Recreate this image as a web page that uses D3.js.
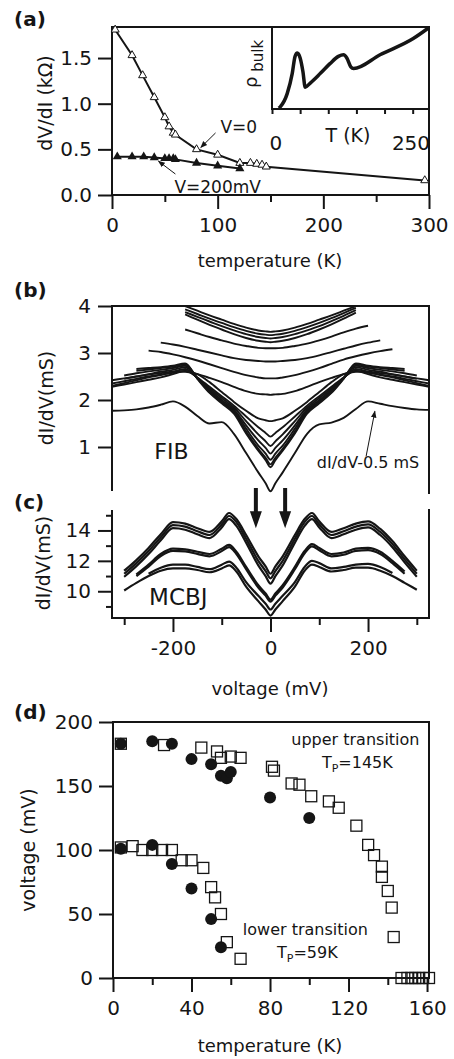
<!DOCTYPE html>
<html>
<head>
<meta charset="utf-8">
<script src="https://cdn.jsdelivr.net/npm/d3@7"></script>
<style>
body{margin:0;background:#fff}
svg{display:block;font-family:"DejaVu Sans",sans-serif}
</style>
</head>
<body>
<div id="chart"></div>
<script>
// ---- panel (a): dV/dI vs temperature
let tempV0 = [3, 19, 29, 40, 50, 54, 58, 60, 80, 100, 121, 131, 137, 142, 146, 296]
let resV0 = [1.81, 1.53, 1.31, 1.07, 0.85, 0.75, 0.68, 0.66, 0.50, 0.44, 0.35, 0.35, 0.34, 0.33, 0.31, 0.16]
let tempV200 = [5, 19, 30, 40, 50, 54, 58, 60, 80, 100, 121]
let resV200 = [0.42, 0.42, 0.42, 0.41, 0.40, 0.40, 0.40, 0.39, 0.35, 0.32, 0.29]
// inset: bulk resistivity (arb. units)
let insetT = [12, 15, 27, 36, 41, 45, 50, 55, 59, 68, 86, 103, 118, 127, 133, 140, 145, 192, 251, 278]
let insetRho = [0.01, 0.03, 0.19, 0.44, 0.65, 0.69, 0.63, 0.46, 0.27, 0.32, 0.44, 0.56, 0.65, 0.67, 0.63, 0.52, 0.50, 0.67, 0.87, 1.0]

// ---- panel (b): FIB junction dI/dV curves (mS)
let fibVolts = [-325,-300,-275,-250,-225,-200,-175,-150,-125,-100,-75,-50,-25,-10,0,10,25,50,75,100,125,150,175,200,225,250,275,300,325]
let fibA = [null,null,null,null,null,null,4.00,3.90,3.80,3.71,3.62,3.54,3.48,3.46,3.45,3.46,3.48,3.54,3.62,3.71,3.80,3.90,4.00,null,null,null,null,null,null]
let fibB = [null,null,null,null,null,null,3.93,3.83,3.73,3.64,3.55,3.47,3.41,3.39,3.38,3.39,3.41,3.47,3.55,3.64,3.74,3.85,3.96,null,null,null,null,null,null]
let fibC = [null,null,null,null,null,null,3.87,3.77,3.67,3.57,3.48,3.40,3.34,3.32,3.31,3.32,3.34,3.40,3.48,3.57,3.68,3.79,3.91,null,null,null,null,null,null]
let fibD = [null,null,null,null,null,null,3.82,3.71,3.60,3.50,3.40,3.32,3.26,3.24,3.23,3.24,3.26,3.32,3.40,3.50,3.61,3.73,3.86,null,null,null,null,null,null]
let fibE = [null,null,null,null,null,null,3.50,3.42,3.34,3.27,3.20,3.15,3.11,3.10,3.10,3.10,3.11,3.15,3.20,3.27,3.35,3.44,3.52,3.58,null,null,null,null,null]
let fibF = [null,null,null,null,3.22,3.18,3.13,3.07,3.01,2.95,2.89,2.85,2.83,2.82,2.82,2.82,2.83,2.85,2.89,2.95,3.02,3.09,3.16,3.22,3.27,null,null,null,null]
let fibG = [null,null,null,3.05,3.02,2.97,2.91,2.84,2.76,2.68,2.60,2.53,2.48,2.46,2.46,2.46,2.48,2.53,2.60,2.68,2.77,2.86,2.93,2.99,3.04,3.08,null,null,null]
let fibH = [2.42,2.46,2.50,2.54,2.57,2.60,2.60,2.55,2.47,2.38,2.28,2.19,2.13,2.12,2.11,2.12,2.13,2.19,2.28,2.38,2.47,2.55,2.60,2.60,2.57,2.54,2.50,2.46,2.42]
let fibI = [2.35,2.40,2.45,2.50,2.54,2.58,2.62,2.55,2.38,2.17,1.96,1.77,1.61,1.57,1.55,1.57,1.61,1.77,1.96,2.17,2.38,2.55,2.62,2.58,2.54,2.50,2.45,2.40,2.35]
let fibJ = [2.28,2.33,2.38,2.43,2.48,2.55,2.62,2.48,2.28,2.08,1.88,1.65,1.42,1.30,1.22,1.30,1.42,1.65,1.88,2.08,2.28,2.48,2.62,2.55,2.48,2.43,2.38,2.33,2.28]
let fibK = [2.30,2.36,2.42,2.48,2.53,2.60,2.66,2.47,2.25,2.04,1.84,1.55,1.27,1.12,1.02,1.12,1.27,1.55,1.84,2.04,2.25,2.47,2.66,2.60,2.53,2.48,2.42,2.36,2.30]
let fibL = [null,2.45,2.50,2.55,2.60,2.64,2.70,2.47,2.22,2.00,1.80,1.46,1.14,0.98,0.86,0.98,1.14,1.46,1.80,2.00,2.22,2.47,2.70,2.64,2.60,2.55,2.50,2.45,null]
let fibM = [null,2.52,2.57,2.61,2.64,2.68,2.73,2.46,2.20,1.97,1.77,1.39,1.03,0.86,0.73,0.86,1.03,1.39,1.77,1.97,2.20,2.46,2.73,2.68,2.64,2.61,2.57,2.52,null]
let fibN = [null,null,2.62,2.65,2.68,2.71,2.76,2.46,2.17,1.95,1.74,1.33,0.96,0.77,0.63,0.77,0.96,1.33,1.74,1.95,2.17,2.46,2.76,2.71,2.68,2.65,2.62,null,null]
let fibO = [null,null,2.66,2.68,2.70,2.73,2.78,2.45,2.15,1.93,1.71,1.29,0.92,0.72,0.57,0.72,0.92,1.29,1.71,1.93,2.15,2.45,2.78,2.73,2.70,2.68,2.66,null,null]
// lowest curve is plotted shifted by -0.5 mS
let fibShifted = [1.77,1.78,1.80,1.84,1.90,1.97,1.86,1.66,1.50,1.53,1.28,0.87,0.46,0.23,0.06,0.23,0.46,0.87,1.28,1.48,1.52,1.62,1.81,1.97,1.92,1.87,1.83,1.80,1.79]

// ---- panel (c): MCBJ dI/dV curves (mS)
let mcbjVolts = [-300,-275,-250,-225,-200,-175,-150,-125,-100,-85,-70,-50,-25,-10,0,10,25,50,70,85,100,125,150,175,200,225,250,275,300]
let mcbjA = [11.35,12.05,12.85,13.75,14.55,14.45,14.15,13.90,14.60,15.15,14.75,13.70,12.30,11.63,11.15,11.63,12.30,13.70,14.75,15.15,14.60,13.90,14.15,14.45,14.60,14.10,13.30,12.30,11.35]
let mcbjB = [11.15,11.85,12.65,13.55,14.35,14.25,13.95,13.70,14.40,14.95,14.55,13.45,12.00,11.33,10.85,11.33,12.00,13.45,14.55,14.95,14.40,13.70,13.95,14.25,14.40,13.90,13.10,12.10,11.15]
let mcbjC = [10.95,11.65,12.45,13.35,14.15,14.05,13.75,13.50,14.20,14.75,14.30,13.20,11.70,11.00,10.50,11.00,11.70,13.20,14.30,14.75,14.20,13.50,13.75,14.05,14.20,13.70,12.90,11.90,10.95]
let mcbjD = [null,11.10,11.75,12.45,12.80,12.75,12.60,12.45,12.80,13.05,12.60,11.60,10.40,9.85,9.45,9.85,10.40,11.60,12.65,13.10,12.85,12.45,12.55,12.80,12.85,12.60,12.00,11.30,null]
let mcbjE = [null,11.00,11.62,12.32,12.66,12.62,12.46,12.30,12.64,12.90,12.45,11.45,10.25,9.71,9.32,9.71,10.25,11.45,12.50,12.95,12.70,12.30,12.40,12.66,12.70,12.45,11.85,11.15,null]
let mcbjF = [null,null,11.15,11.55,11.75,11.75,11.60,11.45,11.75,11.95,11.55,10.60,9.70,9.18,8.80,9.18,9.70,10.60,11.60,12.00,11.85,11.50,11.60,11.75,11.80,11.60,11.20,null,null]
let mcbjG = [10.05,10.55,11.00,11.35,11.50,11.50,11.40,11.25,11.50,11.70,11.30,10.30,9.35,8.80,8.40,8.80,9.35,10.30,11.35,11.75,11.60,11.30,11.40,11.55,11.55,11.35,11.00,10.55,10.10]

// ---- panel (d): transition voltages vs temperature
let circUpperT = [4, 20, 30, 40, 50, 55, 58, 60, 80, 100]
let circUpperV = [183, 185, 183, 171, 167, 158, 156, 161, 141, 125]
let circLowerT = [4, 20, 30, 40, 50, 55]
let circLowerV = [101, 104, 89, 70, 46, 24]
let sqUpperT = [4, 26, 45, 53, 55, 60, 65, 81, 82, 91, 95, 101, 110, 115, 124, 130, 133, 137, 137, 140, 142, 143, 147, 150, 152, 154, 156, 158, 161]
let sqUpperV = [183, 182, 180, 177, 172, 173, 172, 165, 162, 152, 151, 142, 138, 133, 119, 104, 96, 87, 79, 68, 55, 32, 0, 0, 0, 0, 0, 0, 0]
let sqLowerT = [4, 10, 15, 20, 25, 30, 35, 40, 46, 50, 52, 55, 58, 65]
let sqLowerV = [102, 103, 100, 100, 100, 100, 92, 92, 86, 71, 63, 50, 28, 15]

let ink = '#151515'
let W = 454, H = 1059
let L = 112, R = 429
let tickFont = 20

let svg = d3.select('#chart').append('svg').attr('width', W).attr('height', H)
svg.append('rect').attr('width', W).attr('height', H).attr('fill', '#fff')

let xA = d3.scaleLinear().domain([0, 300]).range([L, R])
let yA = d3.scaleLinear().domain([0, 1.84]).range([195, 27])
let xI = d3.scaleLinear().domain([0, 279]).range([272, R])
let yI = d3.scaleLinear().domain([0, 1]).range([109, 28])
let xV = d3.scaleLinear().domain([-325, 325]).range([L, R])
let yB = d3.scaleLinear().domain([0, 4]).range([494, 306])
let yC = d3.scaleLinear().domain([8.24, 15.28]).range([618, 511])
let xD = d3.scaleLinear().domain([0, 161]).range([113, 429])
let yD = d3.scaleLinear().domain([0, 200]).range([978, 722])

let plain = d => String(d)   // keeps a plain hyphen for negatives, like the original

// axis helper: keeps ticks, drops the domain path (frames drawn separately)
let drawAxis = (gen, tr) => {
  let g = svg.append('g').attr('transform', tr).call(gen)
  g.select('.domain').remove()
  g.attr('font-family', null).attr('font-size', tickFont)
  g.selectAll('line').attr('stroke', ink).attr('stroke-width', 2)
  g.selectAll('text').attr('fill', ink)
  return g
}
let frame = (pts) => {
  svg.append('path').attr('d', d3.line()(pts)).attr('fill', 'none')
    .attr('stroke', ink).attr('stroke-width', 2).attr('stroke-linecap', 'square')
}
let label = (txt, x, y, size, anchor) => {
  return svg.append('text').attr('x', x).attr('y', y).attr('font-size', size)
    .attr('text-anchor', anchor || 'middle').attr('fill', ink).text(txt)
}

svg.append('defs').append('marker').attr('id', 'head')
  .attr('viewBox', '0 0 10 10').attr('refX', 9).attr('refY', 5)
  .attr('markerWidth', 7).attr('markerHeight', 7).attr('markerUnits', 'userSpaceOnUse')
  .attr('orient', 'auto')
  .append('path').attr('d', 'M0,1 L10,5 L0,9 Z').attr('fill', ink)

// ================= (a)
label('(a)', 14, 26, 20, 'start').attr('font-weight', 'bold')
drawAxis(d3.axisLeft(yA).tickValues([0, 0.5, 1, 1.5]).tickFormat(d3.format('.1f')).tickSize(14).tickPadding(6), `translate(${L},0)`)
drawAxis(d3.axisBottom(xA).tickValues([0, 100, 200, 300]).tickFormat(plain).tickSize(14).tickPadding(9), `translate(0,${yA(0)})`)
drawAxis(d3.axisBottom(xA).tickValues([50, 150, 250]).tickSize(7).tickFormat(''), `translate(0,${yA(0)})`)
frame([[L, yA(0)], [L, yA.range()[1]], [R, yA.range()[1]], [R, yA(0)], [L, yA(0)]])
label('temperature (K)', 270, 267, 18)
label('dV/dI (kΩ)', 0, 0, 19).attr('transform', `translate(52,${(yA.range()[0] + yA.range()[1]) / 2 - 8}) rotate(-90)`)

let lineA = d3.line().x(d => xA(d[0])).y(d => yA(d[1]))
svg.append('path').datum(tempV0.map((t, i) => [t, resV0[i]])).attr('d', lineA)
  .attr('fill', 'none').attr('stroke', ink).attr('stroke-width', 2)
svg.append('path').datum(tempV200.map((t, i) => [t, resV200[i]])).attr('d', lineA)
  .attr('fill', 'none').attr('stroke', ink).attr('stroke-width', 2)
let tri = d3.symbol(d3.symbolTriangle)
svg.append('g').selectAll('path').data(tempV0).enter().append('path')
  .attr('d', tri.size(28)()).attr('transform', (t, i) => `translate(${xA(t)},${yA(resV0[i])})`)
  .attr('fill', '#fff').attr('stroke', ink).attr('stroke-width', 1)
svg.append('g').selectAll('path').data(tempV200).enter().append('path')
  .attr('d', tri.size(36)()).attr('transform', (t, i) => `translate(${xA(t)},${yA(resV200[i])})`)
  .attr('fill', ink)

label('V=0', xA(120), yA(0.68), 17)
svg.append('line').attr('x1', xA(98)).attr('y1', yA(0.68)).attr('x2', xA(84)).attr('y2', yA(0.52))
  .attr('stroke', ink).attr('stroke-width', 1).attr('marker-end', 'url(#head)')
label('V=200mV', xA(100), yA(0.02), 17)
svg.append('line').attr('x1', xA(60)).attr('y1', yA(0.23)).attr('x2', xA(44)).attr('y2', yA(0.37))
  .attr('stroke', ink).attr('stroke-width', 1).attr('marker-end', 'url(#head)')

// inset
svg.append('rect').attr('x', xI(0)).attr('y', yI(1)).attr('width', R - xI(0)).attr('height', yI(0) - yI(1)).attr('fill', '#fff')
drawAxis(d3.axisBottom(xI).tickValues([0, 50, 100, 150, 200, 250]).tickSize(5).tickFormat(''), `translate(0,${yI(0)})`)
frame([[xI(0), yA.range()[1]], [xI(0), yI(0)], [R, yI(0)]])
frame([[R, yA.range()[1]], [R, yI(0)]])
svg.append('path').datum(insetT.map((t, i) => [t, insetRho[i]]))
  .attr('d', d3.line().x(d => xI(d[0])).y(d => yI(d[1])).curve(d3.curveMonotoneX))
  .attr('fill', 'none').attr('stroke', ink).attr('stroke-width', 3.5).attr('stroke-linejoin', 'round')
label('0', xI(7), 150, tickFont)
label('250', xI(247), 150, tickFont)
label('T (K)', xI(135), 142, 19)
let rho = label('ρ', 0, 0, 18, 'start').attr('transform', `translate(257,88) rotate(-90)`)
rho.append('tspan').attr('font-size', 15).attr('dy', 6).text(' bulk')

// ================= (b)
label('(b)', 14, 297, 20, 'start').attr('font-weight', 'bold')
drawAxis(d3.axisLeft(yB).tickValues([1, 2, 3, 4]).tickFormat(plain).tickSize(14).tickPadding(7), `translate(${L},0)`)
frame([[L, 490], [L, yB(4)], [R, yB(4)], [R, 493]])
label('dI/dV(mS)', 0, 0, 19).attr('transform', `translate(53,398) rotate(-90)`)

let fibCurves = [fibA, fibB, fibC, fibD, fibE, fibF, fibG, fibH, fibI, fibJ, fibK, fibL, fibM, fibN, fibO, fibShifted]
let lineB = d3.line().defined(d => d[1] != null).x(d => xV(d[0])).y(d => yB(d[1])).curve(d3.curveMonotoneX)
svg.append('g').selectAll('path').data(fibCurves).enter().append('path')
  .attr('d', c => lineB(fibVolts.map((v, i) => [v, c[i]])))
  .attr('fill', 'none').attr('stroke', ink).attr('stroke-width', 1.9)

label('FIB', xV(-203), yB(0.75), 22)
label('dI/dV-0.5 mS', xV(200), yB(0.56), 16)
svg.append('line').attr('x1', xV(196)).attr('y1', yB(0.80)).attr('x2', xV(214)).attr('y2', yB(1.76))
  .attr('stroke', ink).attr('stroke-width', 1).attr('marker-end', 'url(#head)')

// ================= (c)
label('(c)', 14, 509, 20, 'start').attr('font-weight', 'bold')
drawAxis(d3.axisLeft(yC).tickValues([10, 12, 14]).tickFormat(plain).tickSize(14).tickPadding(7), `translate(${L},0)`)
drawAxis(d3.axisLeft(yC).tickValues([9, 11, 13, 15]).tickSize(6).tickFormat(''), `translate(${L},0)`)
drawAxis(d3.axisBottom(xV).tickValues([-200, 0, 200]).tickFormat(plain).tickSize(14).tickPadding(9), `translate(0,${yC.range()[0]})`)
drawAxis(d3.axisBottom(xV).tickValues([-300, -100, 100, 300]).tickSize(7).tickFormat(''), `translate(0,${yC.range()[0]})`)
frame([[L, yC.range()[1]], [L, yC.range()[0]], [R, yC.range()[0]], [R, yC.range()[1] - 1]])
label('dI/dV(mS)', 0, 0, 19).attr('transform', `translate(50,563) rotate(-90)`)
label('voltage (mV)', 270, 695, 18)

let mcbjCurves = [mcbjA, mcbjB, mcbjC, mcbjD, mcbjE, mcbjF, mcbjG]
let lineC = d3.line().defined(d => d[1] != null).x(d => xV(d[0])).y(d => yC(d[1])).curve(d3.curveMonotoneX)
svg.append('g').selectAll('path').data(mcbjCurves).enter().append('path')
  .attr('d', c => lineC(mcbjVolts.map((v, i) => [v, c[i]])))
  .attr('fill', 'none').attr('stroke', ink).attr('stroke-width', 2.2)
label('MCBJ', xV(-189), yC(9.1), 23)

// the two downward arrows between (b) and (c)
;[-30, 30].forEach(v => {
  let x = xV(v), y0 = yB(0.13), y1 = yC(14.15)
  svg.append('path')
    .attr('d', `M${x - 2},${y0} L${x + 2},${y0} L${x + 2},${y1 - 17} L${x + 6},${y1 - 17} L${x},${y1} L${x - 6},${y1 - 17} L${x - 2},${y1 - 17} Z`)
    .attr('fill', ink)
})

// ================= (d)
label('(d)', 14, 719, 20, 'start').attr('font-weight', 'bold')
drawAxis(d3.axisLeft(yD).tickValues([0, 50, 100, 150, 200]).tickFormat(plain).tickSize(14).tickPadding(6), `translate(${xD(0)},0)`)
drawAxis(d3.axisBottom(xD).tickValues([0, 40, 80, 120, 160]).tickFormat(plain).tickSize(14).tickPadding(9), `translate(0,${yD(0)})`)
drawAxis(d3.axisBottom(xD).tickValues([20, 60, 100, 140]).tickSize(7).tickFormat(''), `translate(0,${yD(0)})`)
frame([[xD(0), yD(0)], [xD(0), yD(200)], [R, yD(200)], [R, yD(0)], [xD(0), yD(0)]])
label('voltage (mV)', 0, 0, 19).attr('transform', `translate(35,${yD(100)}) rotate(-90)`)
label('temperature (K)', 270, 1052, 18)

let sq = 11
let drawSquares = (ts, vs) => {
  svg.append('g').selectAll('rect').data(ts).enter().append('rect')
    .attr('x', t => xD(t) - sq / 2).attr('y', (t, i) => yD(vs[i]) - sq / 2)
    .attr('width', sq).attr('height', sq)
    .attr('fill', 'none').attr('stroke', ink).attr('stroke-width', 1.3)
}
let drawCircles = (ts, vs) => {
  svg.append('g').selectAll('circle').data(ts).enter().append('circle')
    .attr('cx', t => xD(t)).attr('cy', (t, i) => yD(vs[i])).attr('r', 6)
    .attr('fill', ink)
}
drawSquares(sqUpperT, sqUpperV)
drawSquares(sqLowerT, sqLowerV)
drawCircles(circUpperT, circUpperV)
drawCircles(circLowerT, circLowerV)

label('upper transition', xD(123.5), yD(182), 16)
let tp1 = label('T', xD(124.5), yD(164), 16)
tp1.append('tspan').attr('font-size', 11).attr('dy', 4).text('P')
tp1.append('tspan').attr('dy', -4).text('=145K')
label('lower transition', xD(98), yD(33.5), 16)
let tp2 = label('T', xD(99), yD(16), 16)
tp2.append('tspan').attr('font-size', 11).attr('dy', 4).text('P')
tp2.append('tspan').attr('dy', -4).text('=59K')
</script>
</body>
</html>
